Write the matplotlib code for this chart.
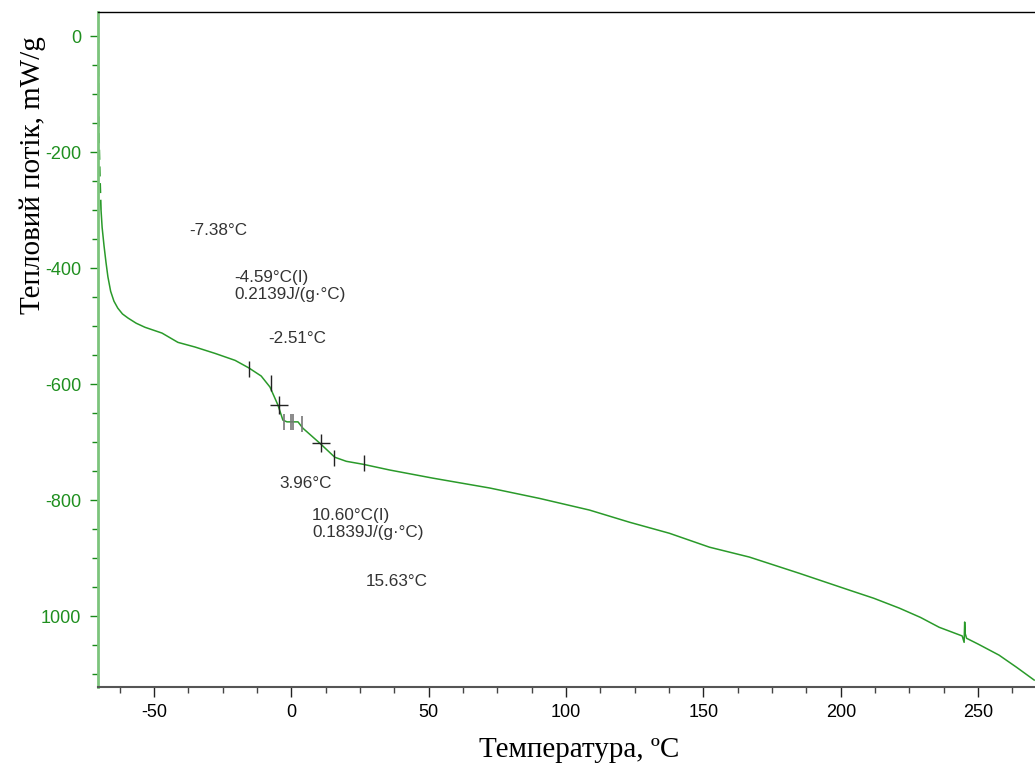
import numpy as np
import matplotlib.pyplot as plt
from matplotlib.ticker import MultipleLocator, FixedLocator, FixedFormatter

# Крива ДСК (температура, °C / тепловий потік, mW/g)
t_start = [-70.3, -70.25, -70.2, -70.0, -69.7, -69.3]
hf_start = [5, -60, -120, -180, -240, -300]

temp = [-69.3, -68.9, -68.2, -67.5, -66.8, -65.8, -64.6, -63.2, -61.5, -59.5,
        -56.5, -53.3, -47.1, -41.3, -35.1,
        -27.8, -20.5, -15.5, -11.0, -7.8, -4.9, -3.1, -1.6, 2.4, 4.2,
        10.4, 15.8, 20.0, 26.0, 35.8, 51.5, 72.2, 90.4, 108.5, 123.1,
        137.6, 152.2, 166.7, 184.9, 203.1, 212.0, 221.3, 229.0, 235.8, 244.2, 244.9,
        245.1, 245.3, 245.8, 250.0, 257.6, 264.0, 270.4]
hf = [-300, -330, -362, -390, -415, -440, -457, -469, -479, -486,
      -495, -502, -512, -528, -536,
      -547, -559, -572, -586, -605, -636, -662, -665, -665, -676,
      -702, -726, -733, -738, -748, -762, -779, -797, -817, -838,
      -857, -881, -898, -926, -955, -969, -986, -1002, -1019, -1034, -1045,
      -1010, -1030, -1038, -1048, -1067, -1088, -1110]

# Позначки аналізу склування
tick_t = [-15.5, -7.4, 15.5, 26.4]
tick_hf = [-574, -598, -728, -736]
cross_t = [-4.6, 10.6]
cross_hf = [-636, -702]
gray_t = [-2.7, -0.2, 0.5, 3.8]
gray_hf = [-665, -665, -665, -668]

labels = ['-7.38°C', '-4.59°C(I)\n0.2139J/(g·°C)', '-2.51°C',
          '3.96°C', '10.60°C(I)\n0.1839J/(g·°C)', '15.63°C']
label_t = [-37.3, -20.9, -8.5, -4.2, 7.5, 27.1]
label_hf = [-336, -431, -521, -771, -841, -940]

yticks = [0, -200, -400, -600, -800, -1000]
yticklabels = ['0', '-200', '-400', '-600', '-800', '1000']

plt.rcParams['font.family'] = ['Liberation Sans', 'DejaVu Sans']
plt.rcParams['axes.unicode_minus'] = False

fig = plt.figure(figsize=(10.35, 7.69), dpi=100)
ax = fig.add_axes([0.0947, 0.1066, 0.9053, 0.8778])

ax.plot(t_start, hf_start, color='#2a9a2a', lw=1.2, ls=(0, (6, 4)))
ax.plot(temp, hf, color='#2a9a2a', lw=1.1)

ax.plot(tick_t, tick_hf, ls='none', marker='|', ms=12, mew=1.0, color='#222222')
ax.plot(cross_t, cross_hf, ls='none', marker='+', ms=13, mew=1.0, color='#222222')
ax.plot(gray_t, gray_hf, ls='none', marker='|', ms=12, mew=1.2, color='#777777')

for txt, x, y in zip(labels, label_t, label_hf):
    ax.text(x, y, txt, fontsize=12.3, color='#333333', ha='left', va='center',
            linespacing=1.15)

ax.set_xlim(-70.4, 270.7)
ax.set_ylim(-1122, 41.4)

ax.xaxis.set_major_locator(MultipleLocator(50))
ax.xaxis.set_minor_locator(MultipleLocator(12.5))
ax.yaxis.set_major_locator(FixedLocator(yticks))
ax.yaxis.set_major_formatter(FixedFormatter(yticklabels))
ax.yaxis.set_minor_locator(MultipleLocator(50))

ax.tick_params(axis='x', which='major', length=7, width=1, color='#222222',
               labelsize=13, labelcolor='black', pad=5)
ax.tick_params(axis='x', which='minor', length=4, width=1, color='#444444')
ax.tick_params(axis='y', which='major', length=6, width=1, color='#1a8a1a',
               labelsize=13, labelcolor='#1f8f1f', pad=6)
ax.tick_params(axis='y', which='minor', length=4, width=1, color='#1a8a1a')

ax.spines['right'].set_visible(False)
ax.spines['top'].set_color('black')
ax.spines['top'].set_linewidth(1.0)
ax.spines['left'].set_color('#7cc47c')
ax.spines['left'].set_linewidth(2.0)
ax.spines['bottom'].set_color('#555555')
ax.spines['bottom'].set_linewidth(1.5)

ax.set_xlabel('Температура, ºC', family=['Liberation Serif', 'DejaVu Serif'],
              fontsize=21)
ax.set_ylabel('Тепловий потік, mW/g', family=['Liberation Serif', 'DejaVu Serif'],
              fontsize=21)
ax.xaxis.set_label_coords(0.5 + (579 - 566) / 937, -0.074)
ax.yaxis.set_label_coords(-0.0555, 0.7585)

fig.savefig('out.png', dpi=100)
